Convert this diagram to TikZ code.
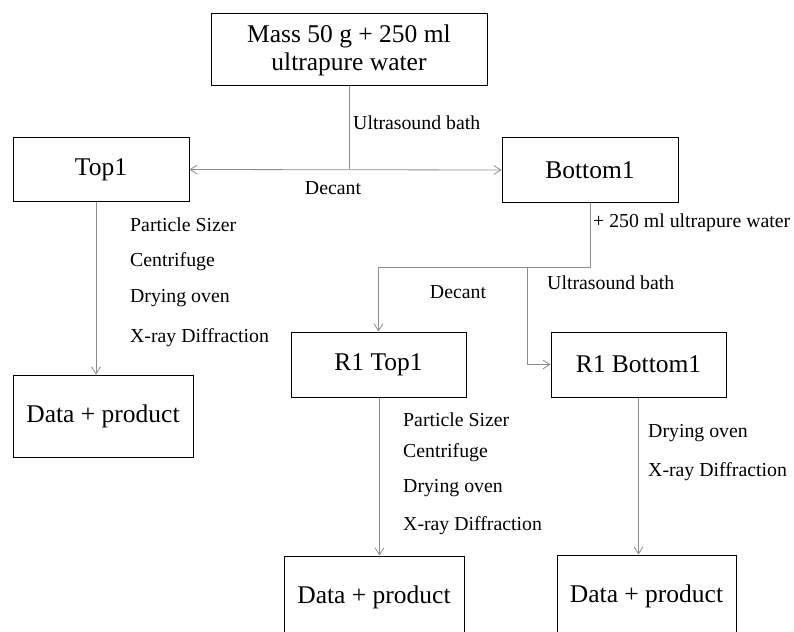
\documentclass[tikz,border=0pt]{standalone}
\usepackage{fontspec}
\setmainfont{Liberation Serif}
\usepackage{tikz}
\usetikzlibrary{arrows.meta,calc,positioning}

\tikzset{
  procbox/.style={draw=black, line width=1pt, inner sep=0pt, align=center,
    font=\fontsize{25.5}{28}\selectfont},
  stepnote/.style={anchor=west, inner sep=0pt, font=\fontsize{19.8}{22}\selectfont},
  link/.style={draw=gray!90, line width=0.8pt},
  flow/.style={link, -{Straight Barb[length=7pt,width=9pt]}},
}

\begin{document}
\begin{tikzpicture}[x=1pt,y=1pt,yscale=-1,xscale=1]
\clip (0,0) rectangle (794,631);

%Shape: Rectangle
\node[procbox, minimum width=276, minimum height=72] (mass) at (349,50) {Mass 50 g + 250 ml\\ultrapure water};
%Shape: Rectangle
\node[procbox, minimum width=176, minimum height=63] (top1) at (101,169.5) {Top1};
%Shape: Rectangle
\node[procbox, minimum width=176, minimum height=64] (bottom1) at (590,170) {Bottom1};
%Shape: Rectangle
\node[procbox, minimum width=175, minimum height=65] (r1top) at (378.5,364.5) {R1 Top1};
%Shape: Rectangle
\node[procbox, minimum width=175, minimum height=65] (r1bottom) at (638.5,364.5) {R1 Bottom1};
%Shape: Rectangle
\node[procbox, minimum width=180, minimum height=82] (data1) at (103,416) {Data + product};
%Shape: Rectangle
\node[procbox, minimum width=180, minimum height=82] (data2) at (374,597) {Data + product};
%Shape: Rectangle
\node[procbox, minimum width=179, minimum height=82] (data3) at (646.5,596) {Data + product};

%Straight Lines
\coordinate (split0) at (mass.south |- top1.east);
\draw[link] (mass.south) -- (split0);
\draw[link, {Straight Barb[length=7pt,width=9pt]}-{Straight Barb[length=7pt,width=9pt]}] (top1.east) -- (bottom1.west);
%Straight Lines
\coordinate (split1) at ($(bottom1.south)+(0,65)$);
\draw[link] (bottom1.south) -- (split1);
\draw[flow] (split1) -| (r1top.north);
\coordinate (split2) at (527,267);
\draw[flow] (split2) |- (r1bottom.west);
%Straight Lines
\draw[flow] ([xshift=-5]top1.south) -- ([xshift=-5]top1.south |- data1.north);
\draw[flow] ([xshift=1]r1top.south) -- ([xshift=1]r1top.south |- data2.north);
\draw[flow] (r1bottom.south) -- (r1bottom.south |- data3.north);

%Text
\node[stepnote] (ultra0) at (353,123) {Ultrasound bath};
\node[stepnote, anchor=center] (decant0) at (333,188) {Decant};
\node[stepnote] (water1) at (593,223) {+ 250 ml ultrapure water};
\node[stepnote] (ultra1) at (547,283) {Ultrasound bath};
\node[stepnote, anchor=center] (decant1) at (458,292) {Decant};
%Text
\node[stepnote] (sizer1) at (130,225) {Particle Sizer};
\node[stepnote] (centr1) at (130,262) {Centrifuge};
\node[stepnote] (oven1) at (130,298) {Drying oven};
\node[stepnote] (xrd1) at (130,338) {X-ray Diffraction};
%Text
\node[stepnote] (sizer2) at (403,420) {Particle Sizer};
\node[stepnote] (centr2) at (403,453) {Centrifuge};
\node[stepnote] (oven2) at (403,488.5) {Drying oven};
\node[stepnote] (xrd2) at (403,526) {X-ray Diffraction};
%Text
\node[stepnote] (oven3) at (648,433) {Drying oven};
\node[stepnote] (xrd3) at (648,472) {X-ray Diffraction};

\end{tikzpicture}
\end{document}
